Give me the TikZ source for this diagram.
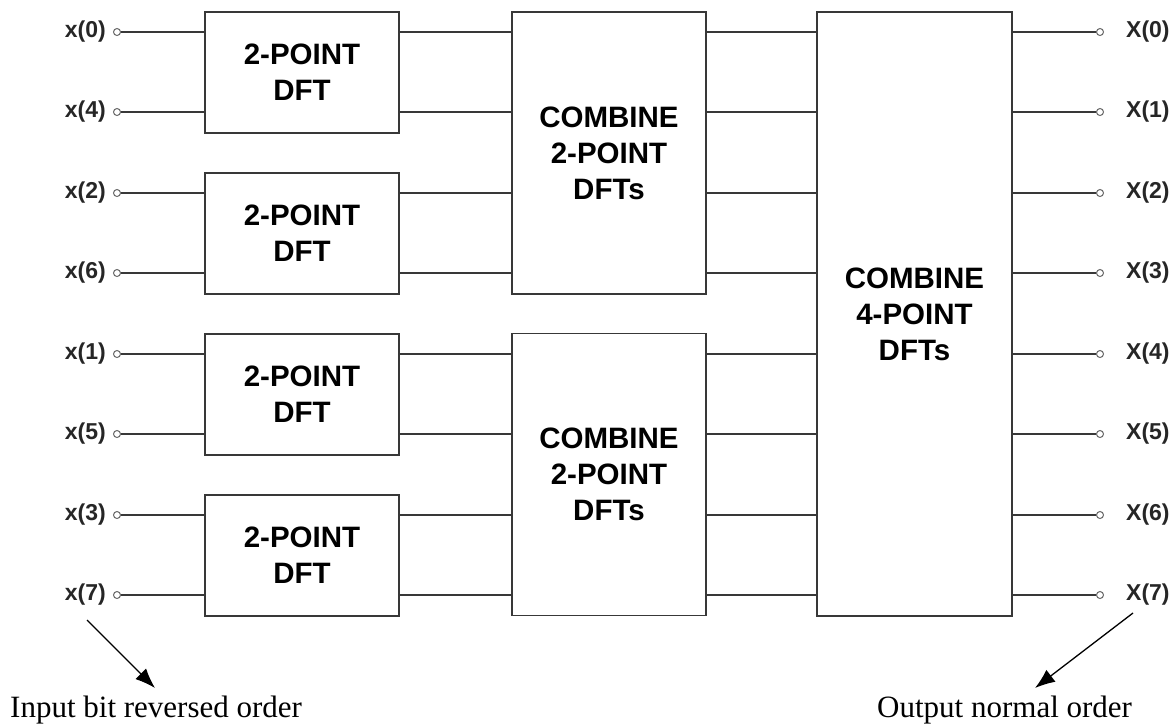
\documentclass[tikz,border=0pt]{standalone}
\usepackage{fontspec}
\setmainfont{Liberation Serif}
\setsansfont{Liberation Sans}
\usetikzlibrary{arrows.meta}
\begin{document}
\begin{tikzpicture}[x=1pt,y=-1pt,
  wire/.style={draw=black!78,line width=1.8pt},
  blk/.style={draw=black!78,line width=1.9pt,fill=white,inner sep=0pt,align=center,
    font=\sffamily\bfseries\fontsize{29.5}{36}\selectfont},
  term/.style={circle,draw=black!60,line width=1pt,inner sep=0pt,minimum size=7pt,fill=white},
  lab/.style={font=\sffamily\bfseries\fontsize{23}{26}\selectfont,inner sep=0pt,text=black!85},
  note/.style={font=\fontsize{31}{36}\selectfont,inner sep=0pt},
  pointer/.style={draw=black,line width=1.3pt,-{Latex[length=20pt,width=15pt]}}]
\useasboundingbox (0,0) rectangle (1176,724);
% blocks
\node[blk,minimum width=194pt,minimum height=121pt] (dft0) at (302,72.5) {2-POINT\\DFT};
\node[blk,minimum width=194pt,minimum height=121pt] (dft1) at (302,233.5) {2-POINT\\DFT};
\node[blk,minimum width=194pt,minimum height=121pt] (dft2) at (302,394.5) {2-POINT\\DFT};
\node[blk,minimum width=194pt,minimum height=121pt] (dft3) at (302,555.5) {2-POINT\\DFT};
\node[blk,minimum width=194pt,minimum height=282pt] (comb0) at (609,153) {COMBINE\\2-POINT\\DFTs};
\node[blk,minimum width=194pt,minimum height=282pt] (comb1) at (609,474.5) {COMBINE\\2-POINT\\DFTs};
\node[blk,minimum width=195pt,minimum height=604pt] (big) at (914.5,314) {COMBINE\\4-POINT\\DFTs};
% terminals, labels and wires
\foreach \i/\n/\yy in {0/0/32,1/4/112,2/2/193,3/6/273,4/1/354,5/5/434,6/3/515,7/7/595} {
  \pgfmathtruncatemacro\k{div(\i,2)}
  \pgfmathtruncatemacro\j{div(\i,4)}
  \node[term] (in\i) at (117,\yy) {};
  \node[lab,anchor=east] (inl\i) at (106,\yy) {x(\n)};
  \node[term] (out\i) at (1100,\yy) {};
  \node[lab,anchor=west] (outl\i) at (1126,\yy) {X(\i)};
  \draw[wire] (in\i) -- (in\i -| dft\k.west);
  \draw[wire] (in\i -| dft\k.east) -- (in\i -| comb\j.west);
  \draw[wire] (in\i -| comb\j.east) -- (in\i -| big.west);
  \draw[wire] (in\i -| big.east) -- (out\i);
}
% notes
\node[note,anchor=base west] (noteL) at (10,717) {Input bit reversed order};
\node[note,anchor=base west] (noteR) at (877,717) {Output normal order};
\coordinate (sL) at (87,620);
\coordinate (eL) at (155,688);
\coordinate (sR) at (1133,613);
\coordinate (eR) at (1035,688);
\draw[pointer] (sL) -- (eL);
\draw[pointer] (sR) -- (eR);
\end{tikzpicture}
\end{document}
